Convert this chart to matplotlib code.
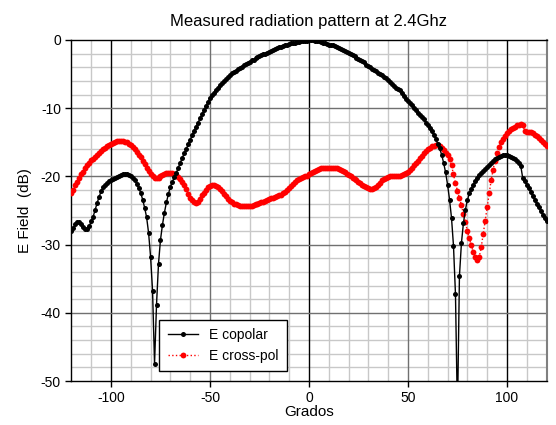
import matplotlib
matplotlib.use("Agg")
import matplotlib.pyplot as plt

plt.rcParams['font.family'] = ['Liberation Sans', 'DejaVu Sans']
plt.rcParams['axes.unicode_minus'] = False

# angles, 1 degree steps from -120 to 120
angles = list(range(-120, 121))

# E copolar (dB)
copolar = [
    -28.0, -27.5, -27.0, -26.7, -26.7, -27.0, -27.4, -27.7, -27.7, -27.3,   # -120..-111
    -26.6, -25.9, -24.9, -23.9, -23.0, -22.2, -21.6, -21.2, -20.9, -20.7,   # -110..-101
    -20.5, -20.4, -20.3, -20.1, -20.0, -19.8, -19.7, -19.6, -19.7, -19.8,   # -100..-91
    -20.0, -20.3, -20.6, -21.1, -21.7, -22.4, -23.4, -24.6, -26.0, -28.3,   # -90..-81
    -31.8, -36.8, -47.5, -38.8, -32.8, -29.3, -27.1, -25.3, -23.8, -22.6,   # -80..-71
    -21.5, -20.8, -20.1, -19.5, -18.7, -18.0, -17.3, -16.6, -16.0, -15.3,   # -70..-61
    -14.6, -14.0, -13.3, -12.7, -12.1, -11.5, -10.9, -10.3, -9.7, -9.1,     # -60..-51
    -8.5, -8.1, -7.7, -7.3, -7.0, -6.6, -6.3, -6.0, -5.7, -5.4,             # -50..-41
    -5.1, -4.9, -4.7, -4.5, -4.3, -4.1, -3.9, -3.7, -3.5, -3.4,             # -40..-31
    -3.2, -3.0, -2.9, -2.7, -2.5, -2.3, -2.2, -2.1, -2.0, -1.9,             # -30..-21
    -1.7, -1.6, -1.5, -1.3, -1.2, -1.1, -1.0, -0.9, -0.8, -0.7,             # -20..-11
    -0.6, -0.5, -0.5, -0.4, -0.3, -0.3, -0.2, -0.1, -0.1, -0.1,             # -10..-1
    0.0,                                                                    # 0
    0.0, 0.0, -0.1, -0.1, -0.2, -0.3, -0.4, -0.5, -0.6, -0.7,               # 1..10
    -0.7, -0.8, -0.9, -1.0, -1.2, -1.3, -1.5, -1.6, -1.7, -1.9,             # 11..20
    -2.1, -2.2, -2.4, -2.6, -2.8, -3.0, -3.1, -3.3, -3.6, -3.8,             # 21..30
    -4.0, -4.2, -4.4, -4.6, -4.8, -5.0, -5.2, -5.4, -5.6, -5.8,             # 31..40
    -6.1, -6.4, -6.7, -7.0, -7.2, -7.4, -7.8, -8.2, -8.6, -9.0,             # 41..50
    -9.3, -9.6, -9.9, -10.3, -10.7, -11.0, -11.3, -11.6, -12.1, -12.5,      # 51..60
    -12.9, -13.4, -13.9, -14.5, -15.2, -15.9, -16.8, -18.0, -19.4, -21.2,   # 61..70
    -23.4, -26.1, -30.2, -37.3, -55.0, -34.6, -29.8, -26.9, -24.9, -23.5,   # 71..80
    -22.5, -21.8, -21.2, -20.7, -20.2, -19.8, -19.5, -19.2, -18.9, -18.6,   # 81..90
    -18.3, -18.0, -17.7, -17.5, -17.3, -17.1, -17.0, -16.9, -16.9, -16.9,   # 91..100
    -17.0, -17.1, -17.3, -17.5, -17.8, -18.1, -18.5, -20.3, -20.7, -21.2,   # 101..110
    -21.7, -22.3, -22.9, -23.4, -24.0, -24.5, -25.1, -25.6, -26.1, -26.6,   # 111..120
]

# E cross-pol (dB)
crosspol = [
    -22.5, -22.0, -21.3, -20.8, -20.2, -19.6, -19.3, -18.8, -18.3, -18.0,   # -120..-111
    -17.6, -17.4, -17.1, -16.8, -16.5, -16.3, -16.0, -15.8, -15.6, -15.4,   # -110..-101
    -15.2, -15.1, -14.9, -14.8, -14.8, -14.8, -14.8, -14.9, -15.0, -15.2,   # -100..-91
    -15.4, -15.7, -16.0, -16.4, -16.8, -17.2, -17.7, -18.2, -18.7, -19.2,   # -90..-81
    -19.6, -19.9, -20.2, -20.3, -20.2, -20.0, -19.8, -19.7, -19.5, -19.5,   # -80..-71
    -19.5, -19.5, -19.6, -19.8, -20.1, -20.4, -20.8, -21.3, -21.9, -22.6,   # -70..-61
    -23.1, -23.5, -23.8, -23.9, -23.7, -23.3, -22.8, -22.4, -22.0, -21.6,   # -60..-51
    -21.4, -21.3, -21.3, -21.4, -21.6, -21.9, -22.2, -22.6, -22.9, -23.3,   # -50..-41
    -23.6, -23.8, -24.0, -24.1, -24.2, -24.3, -24.4, -24.4, -24.4, -24.4,   # -40..-31
    -24.4, -24.3, -24.2, -24.1, -24.0, -23.9, -23.8, -23.7, -23.6, -23.5,   # -30..-21
    -23.3, -23.2, -23.1, -23.0, -22.9, -22.8, -22.7, -22.5, -22.3, -22.0,   # -20..-11
    -21.7, -21.4, -21.1, -20.8, -20.6, -20.4, -20.3, -20.1, -20.0, -19.9,   # -10..-1
    -19.7,                                                                  # 0
    -19.5, -19.3, -19.2, -19.0, -18.9, -18.8, -18.8, -18.7, -18.7, -18.7,   # 1..10
    -18.7, -18.7, -18.8, -18.8, -18.9, -19.0, -19.2, -19.4, -19.6, -19.8,   # 11..20
    -20.0, -20.2, -20.4, -20.6, -20.8, -21.0, -21.2, -21.4, -21.6, -21.7,   # 21..30
    -21.8, -21.8, -21.7, -21.5, -21.2, -20.9, -20.6, -20.4, -20.2, -20.1,   # 31..40
    -20.0, -20.0, -19.9, -19.9, -19.9, -19.9, -19.8, -19.7, -19.5, -19.3,   # 41..50
    -19.0, -18.7, -18.4, -18.1, -17.7, -17.3, -17.0, -16.6, -16.3, -16.0,   # 51..60
    -15.8, -15.6, -15.5, -15.4, -15.4, -15.5, -15.8, -16.2, -16.6, -16.9,   # 61..70
    -17.5, -18.4, -19.7, -21.0, -22.1, -23.2, -24.2, -25.5, -26.7, -28.0,   # 71..80
    -29.1, -30.1, -31.1, -31.8, -32.2, -31.8, -30.4, -28.5, -26.5, -24.5,   # 81..90
    -22.5, -20.6, -19.0, -17.7, -16.6, -15.7, -15.0, -14.5, -14.1, -13.7,   # 91..100
    -13.4, -13.1, -12.9, -12.7, -12.5, -12.4, -12.3, -12.5, -13.3, -13.5,   # 101..110
    -13.5, -13.5, -13.7, -13.9, -14.1, -14.4, -14.7, -15.0, -15.3, -15.6,   # 111..120
]

x_ticks = [-100, -50, 0, 50, 100]
y_ticks = [0, -10, -20, -30, -40, -50]

fig = plt.figure(figsize=(5.56, 4.25), dpi=100)
ax = fig.add_axes([0.1284, 0.1035, 0.8546, 0.8024])

# grid, excel style
for gx in range(-110, 120, 10):
    if gx in (-100, 0, 100):
        ax.axvline(gx, color='black', lw=1.0, zorder=1)
    elif gx in (-50, 50):
        ax.axvline(gx, color='#707070', lw=1.0, zorder=1)
    else:
        ax.axvline(gx, color='#c8c8c8', lw=1.0, zorder=0)
for gy in range(-48, 0, 2):
    if gy % 10 == 0:
        ax.axhline(gy, color='#707070', lw=1.0, zorder=1)
    else:
        ax.axhline(gy, color='#c8c8c8', lw=1.0, zorder=0)

cross, = ax.plot(angles, crosspol, color='red', linestyle=':', lw=1.0,
                 marker='o', markersize=4.2, markeredgewidth=0, zorder=3,
                 label='E cross-pol')
cop, = ax.plot(angles, copolar, color='black', lw=1.0,
               marker='o', markersize=3.6, markeredgewidth=0, zorder=4,
               label='E copolar')

ax.set_xlim(-120, 120)
ax.set_ylim(-50, 0)
ax.set_xticks(x_ticks)
ax.set_yticks(y_ticks)
ax.tick_params(direction='out', length=4, width=1, labelsize=10, color='black')
for s in ('left', 'top', 'bottom'):
    ax.spines[s].set_color('black')
    ax.spines[s].set_linewidth(1.0)
ax.spines['right'].set_color('#808080')
ax.spines['right'].set_linewidth(1.5)

ax.set_title('Measured radiation pattern at 2.4Ghz', fontsize=12, pad=10)
ax.set_xlabel('Grados', fontsize=11, labelpad=0)
ax.set_ylabel('E Field  (dB)', fontsize=11, labelpad=6)

leg = ax.legend(handles=[cop, cross], loc='lower left',
                bbox_to_anchor=(0.185, 0.028), fontsize=10, fancybox=False,
                framealpha=1, edgecolor='black', borderpad=0.6,
                handlelength=2.2, borderaxespad=0)
leg.get_frame().set_linewidth(1.0)

plt.savefig('out.png', dpi=100)
